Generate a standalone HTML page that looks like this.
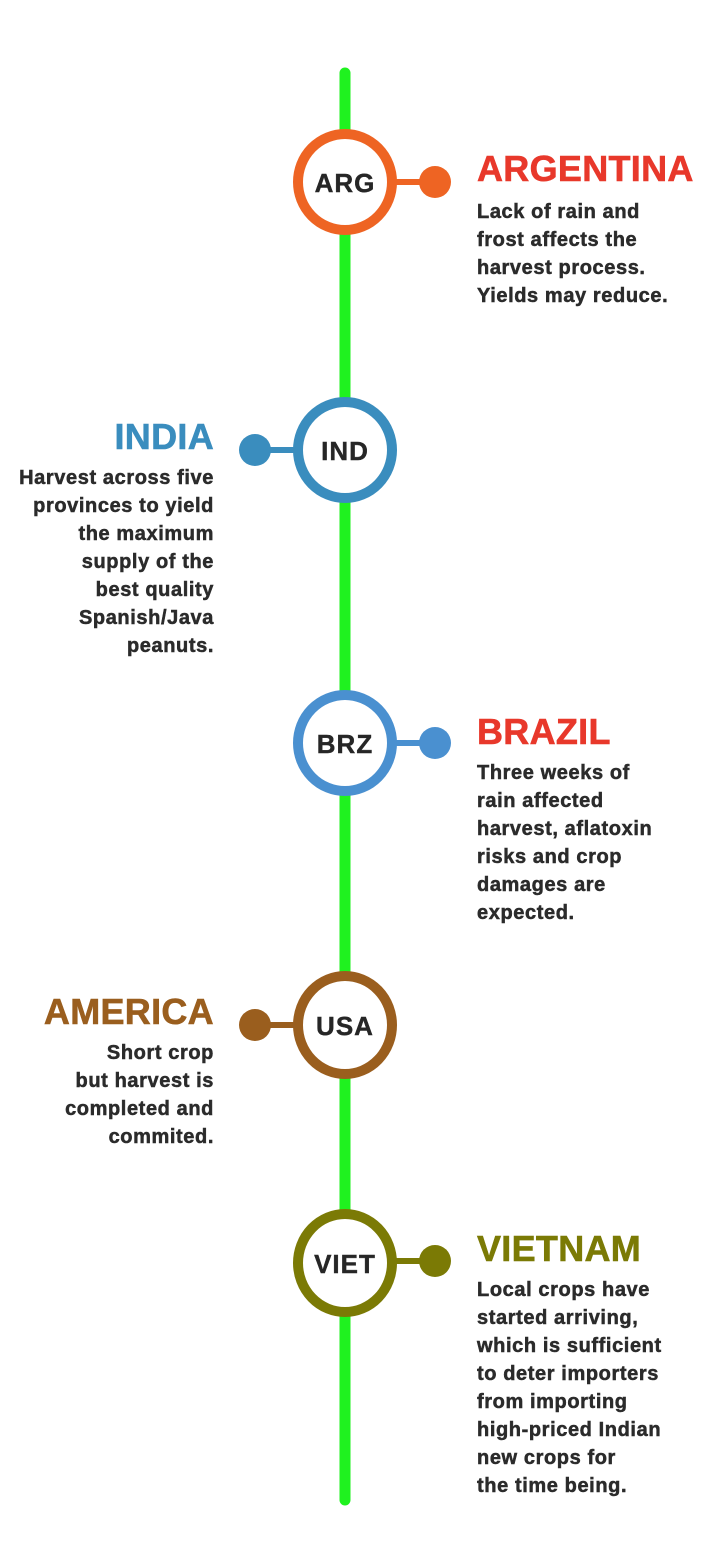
<!DOCTYPE html>
<html><head><meta charset="utf-8"><style>
body{margin:0;width:720px;height:1546px;background:#fff;position:relative;overflow:hidden;font-family:"Liberation Sans",sans-serif;}
.t{position:absolute;font-weight:bold;font-size:36px;line-height:36px;white-space:nowrap;letter-spacing:0.3px;-webkit-text-stroke:0.6px currentColor}
.b{position:absolute;font-weight:bold;font-size:20px;line-height:28px;color:#2b2b2b;white-space:nowrap;letter-spacing:0.6px;-webkit-text-stroke:0.5px #2b2b2b}
.r{text-align:right}
</style></head><body>
<svg width="720" height="1546" style="position:absolute;left:0;top:0">
<line x1="345" y1="73" x2="345" y2="1500" stroke="#1FF21F" stroke-width="11" stroke-linecap="round"/>
<g font-family="Liberation Sans, sans-serif" font-weight="bold" font-size="26" fill="#262626" text-anchor="middle" letter-spacing="1" stroke="#262626" stroke-width="0.4">
<line x1="395" y1="182" x2="430" y2="182" stroke="#EE6423" stroke-width="6"/>
<circle cx="435" cy="182" r="16" fill="#EE6423" stroke="none"/>
<ellipse cx="345" cy="182" rx="47" ry="48" fill="#fff" stroke="#EE6423" stroke-width="10"/>
<text x="345" y="192">ARG</text>

<line x1="260" y1="450" x2="298" y2="450" stroke="#3A8DBE" stroke-width="6"/>
<circle cx="255" cy="450" r="16" fill="#3A8DBE" stroke="none"/>
<ellipse cx="345" cy="450" rx="47" ry="48" fill="#fff" stroke="#3A8DBE" stroke-width="10"/>
<text x="345" y="460">IND</text>

<line x1="395" y1="743" x2="430" y2="743" stroke="#4A90D0" stroke-width="6"/>
<circle cx="435" cy="743" r="16" fill="#4A90D0" stroke="none"/>
<ellipse cx="345" cy="743" rx="47" ry="48" fill="#fff" stroke="#4A90D0" stroke-width="10"/>
<text x="345" y="753">BRZ</text>

<line x1="260" y1="1025" x2="298" y2="1025" stroke="#9A5E1E" stroke-width="6"/>
<circle cx="255" cy="1025" r="16" fill="#9A5E1E" stroke="none"/>
<ellipse cx="345" cy="1025" rx="47" ry="49" fill="#fff" stroke="#9A5E1E" stroke-width="10"/>
<text x="345" y="1035">USA</text>

<line x1="395" y1="1261" x2="430" y2="1261" stroke="#7B7A05" stroke-width="6"/>
<circle cx="435" cy="1261" r="16" fill="#7B7A05" stroke="none"/>
<ellipse cx="345" cy="1263" rx="47" ry="49" fill="#fff" stroke="#7B7A05" stroke-width="10"/>
<text x="345" y="1273">VIET</text>
</g>
</svg>

<div class="t" style="left:477px;top:151px;color:#E8382B">ARGENTINA</div>
<div class="b" style="left:477px;top:198px">Lack of rain and<br>frost affects the<br>harvest process.<br>Yields may reduce.</div>

<div class="t r" style="right:506px;top:419px;color:#3A8DBE">INDIA</div>
<div class="b r" style="right:506px;top:464px">Harvest across five<br>provinces to yield<br>the maximum<br>supply of the<br>best quality<br>Spanish/Java<br>peanuts.</div>

<div class="t" style="left:477px;top:714px;color:#E8382B">BRAZIL</div>
<div class="b" style="left:477px;top:759px">Three weeks of<br>rain affected<br>harvest, aflatoxin<br>risks and crop<br>damages are<br>expected.</div>

<div class="t r" style="right:506px;top:994px;color:#9A5E1E">AMERICA</div>
<div class="b r" style="right:506px;top:1039px">Short crop<br>but harvest is<br>completed and<br>commited.</div>

<div class="t" style="left:477px;top:1231px;color:#7B7A05">VIETNAM</div>
<div class="b" style="left:477px;top:1276px">Local crops have<br>started arriving,<br>which is sufficient<br>to deter importers<br>from importing<br>high-priced Indian<br>new crops for<br>the time being.</div>
</body></html>
